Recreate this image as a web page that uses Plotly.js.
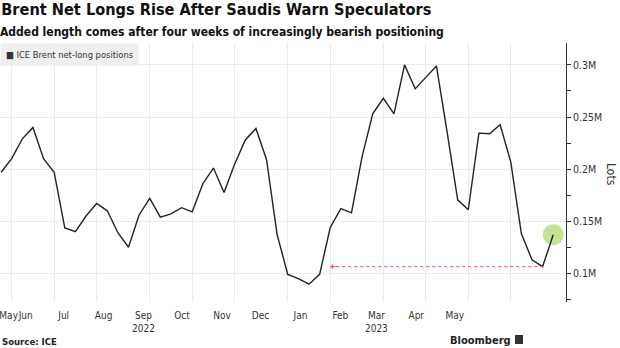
<!DOCTYPE html>
<html>
<head>
<meta charset="utf-8">
<script src="https://cdn.plot.ly/plotly-3.0.1.min.js"></script>
<style>html,body{margin:0;padding:0;background:#fff;}#chart{width:620px;height:348px;}</style>
</head>
<body>
<div id="chart"></div>
<script>
// Weekly report dates (Tuesdays)
const weekDates = [
 '2022-05-31','2022-06-07','2022-06-14','2022-06-21','2022-06-28',
 '2022-07-05','2022-07-12','2022-07-19','2022-07-26',
 '2022-08-02','2022-08-09','2022-08-16','2022-08-23','2022-08-30',
 '2022-09-06','2022-09-13','2022-09-20','2022-09-27',
 '2022-10-04','2022-10-11','2022-10-18','2022-10-25',
 '2022-11-01','2022-11-08','2022-11-15','2022-11-22','2022-11-29',
 '2022-12-06','2022-12-13','2022-12-20','2022-12-27',
 '2023-01-03','2023-01-10','2023-01-17','2023-01-24','2023-01-31',
 '2023-02-07','2023-02-14','2023-02-21','2023-02-28',
 '2023-03-07','2023-03-14','2023-03-21','2023-03-28',
 '2023-04-04','2023-04-11','2023-04-18','2023-04-25',
 '2023-05-02','2023-05-09','2023-05-16','2023-05-23','2023-05-30'
];
// ICE Brent net-long positions, million lots
const netLongs = [
 0.197,0.210,0.229,0.240,0.210,
 0.197,0.1435,0.140,0.155,
 0.167,0.160,0.139,0.125,0.156,
 0.172,0.154,0.157,0.163,
 0.159,0.186,0.201,0.1775,
 0.205,0.228,0.239,0.209,0.137,
 0.099,0.095,0.0896,0.099,
 0.144,0.162,0.158,0.212,0.253,
 0.268,0.253,0.300,0.277,
 0.288,0.299,0.236,0.1705,
 0.161,0.2345,0.234,0.2425,
 0.207,0.138,0.113,0.1065,0.137
];
// Vertical gridlines (first report of each month)
const gridDates = ['2022-06-07','2022-07-05','2022-08-02','2022-09-06','2022-10-04','2022-11-01',
 '2022-12-06','2023-01-03','2023-02-07','2023-03-07','2023-04-04','2023-05-02'];
// Month labels
const monthDates = ['2022-05-19 06:00','2022-06-01 12:00','2022-07-01','2022-08-01','2022-09-01','2022-10-01','2022-11-01',
 '2022-12-01','2023-01-01','2023-02-01','2023-03-01','2023-04-01','2023-05-01'];
const monthLabels = ['May','Jun','Jul','Aug','Sep<br>2022','Oct','Nov','Dec','Jan','Feb','Mar<br>2023','Apr','May'];
const arrowEndDate = '2023-01-03';

const FONT = 'DejaVu Sans Condensed, DejaVu Sans, sans-serif';
const n = netLongs.length;

const traces = [
 { x:[weekDates[n-1]], y:[netLongs[n-1]], type:'scatter', mode:'markers',
   marker:{size:21, color:'rgba(170,215,100,0.7)', line:{width:0}},
   showlegend:false, hoverinfo:'skip' },
 { x:weekDates, y:netLongs, type:'scatter', mode:'lines', name:'ICE Brent net-long positions',
   line:{color:'#222', width:1.4}, showlegend:false },
 { x:monthDates, y:monthDates.map(()=>null), xaxis:'x2', type:'scatter', mode:'markers',
   showlegend:false, hoverinfo:'skip' }
];

const layout = {
 width:620, height:348,
 margin:{l:0, r:54, t:43, b:46},
 paper_bgcolor:'#fff', plot_bgcolor:'#fff',
 font:{family:FONT, color:'#333', size:10.5},
 title:{text:'<b>Brent Net Longs Rise After Saudis Warn Speculators</b>',
   font:{family:FONT, size:16.2, color:'#111'}, x:0.002, xanchor:'left', xref:'container',
   y:0.99, yanchor:'top', yref:'container'},
 showlegend:false,
 xaxis:{type:'date', range:['2022-05-30 07:00','2023-06-07 10:00'],
   tickmode:'array', tickvals:gridDates, showticklabels:false, ticks:'',
   showgrid:true, gridcolor:'#ebebeb', gridwidth:1, zeroline:false, showline:false, fixedrange:true},
 xaxis2:{type:'date', overlaying:'x', anchor:'y', side:'bottom',
   range:['2022-05-12 12:45','2023-07-26 08:00'],
   tickmode:'array', tickvals:monthDates, ticktext:monthLabels, tickangle:0,
   ticklabeloverflow:'allow',
   showgrid:false, ticks:'', ticklabelstandoff:6, showline:false, zeroline:false,
   tickfont:{family:FONT, size:10, color:'#333'}},
 yaxis:{side:'right', range:[0.0725,0.321], tick0:0, dtick:0.05, tickformat:'~g', ticksuffix:'M',
   ticks:'outside', ticklen:4, tickcolor:'#333', showline:true, linecolor:'#333', linewidth:1,
   showgrid:true, gridcolor:'#ebebeb', zeroline:false,
   tickfont:{family:FONT, size:10.5, color:'#333'},
   minor:{dtick:0.05, tick0:0.025, ticks:'outside', ticklen:4, tickcolor:'#333', showgrid:false}},
 shapes:[
  { type:'line', xref:'x', yref:'y', x0:arrowEndDate, x1:weekDates[n-2],
    y0:netLongs[n-2], y1:netLongs[n-2], line:{color:'#ee6b7f', width:1.2, dash:'dot'} },
  { type:'rect', xref:'paper', yref:'paper', x0:515/566, x1:523/566, y0:(302-344)/259, y1:(302-335)/259,
    fillcolor:'#333', line:{width:0} }
 ],
 annotations:[
  { xref:'paper', yref:'paper', x:-0.0035, y:(302-23)/259, xanchor:'left', yanchor:'top', showarrow:false,
    text:'<b>Added length comes after four weeks of increasingly bearish positioning</b>',
    font:{family:FONT, size:12, color:'#111'} },
  { xref:'paper', yref:'paper', x:0, y:1, xanchor:'left', yanchor:'top', showarrow:false,
    text:'■ ICE Brent net-long positions', bgcolor:'#efefef', borderpad:5,
    font:{family:FONT, size:9.3, color:'#333'} },
  { xref:'paper', yref:'paper', x:611/566, y:(302-175)/259, xanchor:'center', yanchor:'middle',
    showarrow:false, text:'Lots', textangle:90, font:{family:FONT, size:12, color:'#333'} },
  { xref:'x', yref:'y', x:arrowEndDate, y:netLongs[n-2], ax:9, ay:0, axref:'pixel', ayref:'pixel',
    text:'', showarrow:true, arrowhead:1, arrowsize:1, arrowwidth:1, arrowcolor:'#ee6b7f' },
  { xref:'paper', yref:'paper', x:0, y:(302-341)/259, xanchor:'left', yanchor:'middle', showarrow:false,
    text:'<b>Source: ICE</b>', font:{family:FONT, size:9.5, color:'#222'} },
  { xref:'paper', yref:'paper', x:513/566, y:(302-340)/259, xanchor:'right', yanchor:'middle', showarrow:false,
    text:'<b>Bloomberg</b>', font:{family:FONT, size:11, color:'#222'} }
 ]
};

Plotly.newPlot('chart', traces, layout, {displayModeBar:false, staticPlot:true});
</script>
</body>
</html>
